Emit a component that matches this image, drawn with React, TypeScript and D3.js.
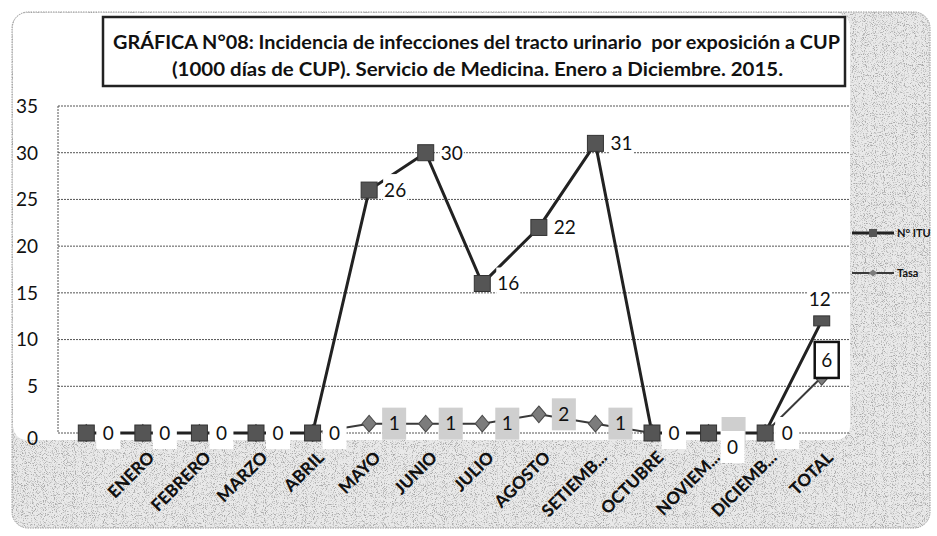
import React, { useEffect, useRef } from "react";
import * as d3 from "d3";

// categories (first one has no label in the original sheet)
const categories = [
  "",
  "ENERO",
  "FEBRERO",
  "MARZO",
  "ABRIL",
  "MAYO",
  "JUNIO",
  "JULIO",
  "AGOSTO",
  "SETIEMB...",
  "OCTUBRE",
  "NOVIEM...",
  "DICIEMB...",
  "TOTAL",
];
const ituValues = [0, 0, 0, 0, 0, 26, 30, 16, 22, 31, 0, 0, 0, 12];
const tasaValues = [0, 0, 0, 0, 0, 1, 1, 1, 2, 1, 0, 0, 0, 6];
const yTicks = [0, 5, 10, 15, 20, 25, 30, 35];
const seriesNames = ["N° ITU", "Tasa"];
const titleLines = [
  "GRÁFICA N°08: Incidencia de infecciones del tracto urinario  por exposición a CUP",
  "(1000 días de CUP). Servicio de Medicina. Enero a Diciembre. 2015.",
];

const W = 937;
const H = 536;
const FONT = "Lato, 'Open Sans', sans-serif";

export default function App() {
  const ref = useRef<SVGSVGElement | null>(null);

  useEffect(() => {
    const svg = d3.select(ref.current);
    svg.selectAll("*").remove();

    // speckle texture like the scanned page
    const defs = svg.append("defs");
    const f = defs
      .append("filter")
      .attr("id", "speckle")
      .attr("x", 0)
      .attr("y", 0)
      .attr("width", 1)
      .attr("height", 1);
    f.append("feTurbulence")
      .attr("type", "fractalNoise")
      .attr("baseFrequency", 1.1)
      .attr("numOctaves", 1)
      .attr("seed", 4)
      .attr("result", "n");
    f.append("feColorMatrix")
      .attr("in", "n")
      .attr("type", "matrix")
      .attr("values", "0 0 0 0 0.4  0 0 0 0 0.4  0 0 0 0 0.4  5 0 0 0 -2.55")
      .attr("result", "dots");
    f.append("feComposite").attr("in", "dots").attr("in2", "SourceGraphic").attr("operator", "in");

    // chart area
    svg
      .append("rect")
      .attr("x", 12)
      .attr("y", 12)
      .attr("width", 918)
      .attr("height", 516)
      .attr("rx", 16)
      .attr("fill", "#e9e9e9");
    svg
      .append("rect")
      .attr("x", 12)
      .attr("y", 12)
      .attr("width", 918)
      .attr("height", 516)
      .attr("rx", 16)
      .attr("fill", "#000")
      .attr("filter", "url(#speckle)");
    // white plot + title region
    svg
      .append("rect")
      .attr("x", 13)
      .attr("y", 13)
      .attr("width", 837)
      .attr("height", 427)
      .attr("rx", 14)
      .attr("fill", "#fff");
    svg
      .append("rect")
      .attr("x", 12)
      .attr("y", 12)
      .attr("width", 918)
      .attr("height", 516)
      .attr("rx", 16)
      .attr("fill", "none")
      .attr("stroke", "#9a9a9a")
      .attr("stroke-dasharray", "1.5,1");

    // scales
    const x = d3.scaleBand<string>().domain(categories).range([58, 850]);
    const cx = (i: number) => (x(categories[i]) as number) + x.bandwidth() / 2;
    const y = d3.scaleLinear().domain([0, 35]).range([433, 106]);

    // gridlines
    svg
      .append("g")
      .selectAll("line")
      .data(yTicks)
      .join("line")
      .attr("x1", 58)
      .attr("x2", 850)
      .attr("y1", (d) => y(d))
      .attr("y2", (d) => y(d))
      .attr("stroke", "#555")
      .attr("stroke-width", 1)
      .attr("stroke-dasharray", "2,1");
    svg
      .append("line")
      .attr("x1", 58)
      .attr("x2", 58)
      .attr("y1", y(35))
      .attr("y2", y(0))
      .attr("stroke", "#555")
      .attr("stroke-dasharray", "2,1");

    // y tick labels
    svg
      .append("g")
      .selectAll("text")
      .data(yTicks)
      .join("text")
      .attr("x", 38)
      .attr("y", (d) => y(d) + (d === 0 ? 5 : 0))
      .attr("dy", "0.36em")
      .attr("text-anchor", "end")
      .style("font-family", FONT)
      .style("font-size", "19px")
      .style("fill", "#111")
      .text((d) => d);

    // category labels
    svg
      .append("g")
      .selectAll("text")
      .data(categories.slice(1))
      .join("text")
      .attr("transform", (d, i) => `translate(${cx(i + 1) + 4},${450}) rotate(-45)`)
      .attr("dy", "0.72em")
      .attr("text-anchor", "end")
      .style("font-family", FONT)
      .style("font-weight", "900")
      .style("font-size", "17px")
      .style("fill", "#111")
      .text((d) => d);

    // lines
    const idx = d3.range(categories.length);
    svg
      .append("path")
      .datum(idx)
      .attr("fill", "none")
      .attr("stroke", "#3a3a3a")
      .attr("stroke-width", 2)
      .attr("d", d3.line<number>().x((i) => cx(i)).y((i) => y(tasaValues[i])));
    svg
      .append("path")
      .datum(idx)
      .attr("fill", "none")
      .attr("stroke", "#222")
      .attr("stroke-width", 3)
      .attr("d", d3.line<number>().x((i) => cx(i)).y((i) => y(ituValues[i])));

    // Tasa markers (diamonds)
    const diamond = d3.symbol().type(d3.symbolDiamond).size(110);
    svg
      .append("g")
      .selectAll("path")
      .data(idx)
      .join("path")
      .attr("transform", (i) => `translate(${cx(i)},${y(tasaValues[i])}) scale(1.25,0.85)`)
      .attr("d", diamond)
      .attr("fill", "#7c7c7c")
      .attr("stroke", "#4a4a4a")
      .attr("stroke-width", 1);

    // N° ITU markers (squares)
    svg
      .append("g")
      .selectAll("rect")
      .data(idx)
      .join("rect")
      .attr("x", (i) => cx(i) - 8)
      .attr("y", (i) => y(ituValues[i]) - 8 - (i === 13 ? -3 : 0))
      .attr("width", 16)
      .attr("height", (i) => (i === 13 ? 10 : 16))
      .attr("fill", "#555")
      .attr("stroke", "#333")
      .attr("stroke-width", 1);

    // data labels
    const label = (g: any, cxp: number, cyp: number, txt: string, fill: string, border?: boolean) => {
      g.append("rect")
        .attr("x", cxp - 12)
        .attr("y", cyp - (border ? 18 : 16))
        .attr("width", 24)
        .attr("height", border ? 36 : 32)
        .attr("fill", fill)
        .attr("stroke", border ? "#111" : "none")
        .attr("stroke-width", border ? 2.5 : 0);
      if (txt === "") return;
      g.append("text")
        .attr("x", cxp)
        .attr("y", cyp)
        .attr("dy", "0.36em")
        .attr("text-anchor", "middle")
        .style("font-family", FONT)
        .style("font-size", "19px")
        .style("fill", "#111")
        .text(txt);
    };

    // Tasa labels: zero ones sit under the N° ITU labels, only the moved one shows its box
    const tasaG = svg.append("g");
    idx.forEach((i) => {
      if (i === 0) return;
      if (i === 13) {
        label(tasaG, cx(i) + 5, y(tasaValues[i]) - 17, String(tasaValues[i]), "#fff", true);
      } else if (tasaValues[i] > 0) {
        label(tasaG, cx(i) + 25, y(tasaValues[i]), String(tasaValues[i]), "#cfcfcf");
      } else if (categories[i] === "NOVIEM...") {
        label(tasaG, cx(i) + 25, y(tasaValues[i]), "", "#cfcfcf");
      }
    });

    const ituG = svg.append("g");
    idx.forEach((i) => {
      if (i === 13) {
        label(ituG, cx(i) - 2, y(ituValues[i]) - 22, String(ituValues[i]), "#fff");
        return;
      }
      const big = ituValues[i] >= 10;
      let dx = big ? 26 : 22;
      let dy = 0;
      if (categories[i] === "NOVIEM...") {
        dx = 24;
        dy = 14;
      }
      label(ituG, cx(i) + dx, y(ituValues[i]) + dy, String(ituValues[i]), "#fff");
    });

    // legend
    const legend = svg.append("g").attr("transform", "translate(852,233)");
    seriesNames.forEach((name, k) => {
      const row = legend.append("g").attr("transform", `translate(0,${k * 40})`);
      row
        .append("line")
        .attr("x1", 0)
        .attr("x2", 42)
        .attr("stroke", k === 0 ? "#222" : "#3a3a3a")
        .attr("stroke-width", k === 0 ? 3 : 2);
      if (k === 0) {
        row.append("rect").attr("x", 17).attr("y", -4).attr("width", 8).attr("height", 8).attr("fill", "#555");
      } else {
        row
          .append("path")
          .attr("transform", "translate(21,0) scale(1.3,0.6)")
          .attr("d", d3.symbol().type(d3.symbolDiamond).size(40))
          .attr("fill", "#7c7c7c");
      }
      row
        .append("text")
        .attr("x", 45)
        .attr("dy", "0.36em")
        .style("font-family", FONT)
        .style("font-weight", "bold")
        .style("font-size", "11px")
        .style("fill", "#111")
        .text(name);
    });

    // title box
    svg
      .append("rect")
      .attr("x", 103)
      .attr("y", 17)
      .attr("width", 742)
      .attr("height", 69)
      .attr("fill", "#fff")
      .attr("stroke", "#222")
      .attr("stroke-width", 2.5);
    const tl = [
      { x: 113, y: 49, len: 727 },
      { x: 172, y: 76, len: 611 },
    ];
    titleLines.forEach((t, k) => {
      svg
        .append("text")
        .attr("x", tl[k].x)
        .attr("y", tl[k].y)
        .attr("textLength", tl[k].len)
        .attr("lengthAdjust", "spacingAndGlyphs")
        .style("font-family", FONT)
        .style("font-weight", "bold")
        .style("font-size", "19px")
        .style("fill", "#111")
        .style("white-space", "pre")
        .text(t);
    });
  }, []);

  return (
    <svg
      ref={ref}
      width={W}
      height={H}
      style={{ position: "absolute", left: 0, top: 0, background: "#fff" }}
    />
  );
}
